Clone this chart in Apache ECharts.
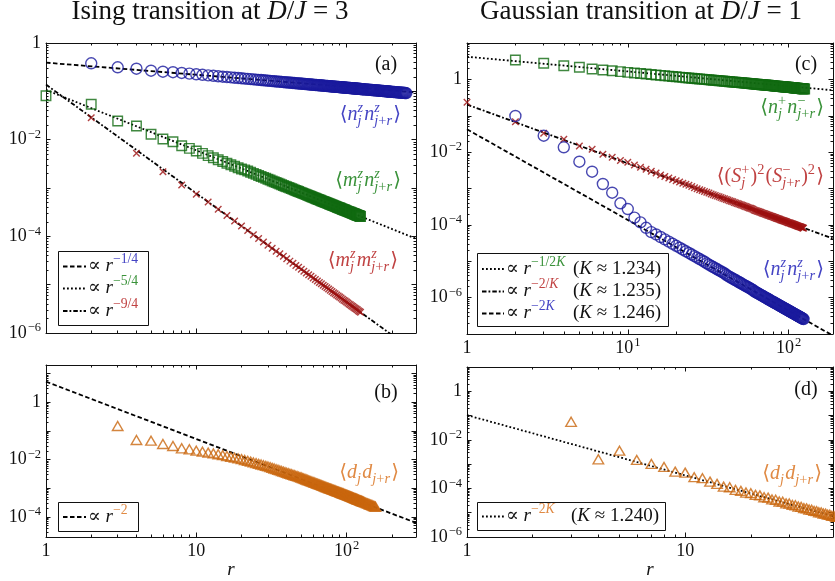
<!DOCTYPE html>
<html>
<head>
<meta charset="utf-8">
<title>Correlation functions at the Ising and Gaussian transitions</title>
<script src="https://cdn.jsdelivr.net/npm/echarts@6.0.0/dist/echarts.min.js"></script>
<style>
  html, body { margin: 0; padding: 0; background: #ffffff; }
  #chart { width: 835px; height: 581px; }
</style>
</head>
<body>
<div id="chart"></div>
<script>
// ---------- separations r ----------
const rGrid = [1,2,3,4,5,6,7,8,9,10,11,12,13,14,15,16,17,18,19,20,21,22,23,24,25,26,27,28,29,30,
  31,32,33,34,35,36,37,38,39,40,41,42,43,44,45,46,47,48,49,50,51,52,53,54,55,56,57,58,59,60,
  61,62,63,64,65,66,67,68,69,70,71,72,73,74,75,76,77,78,79,80,81,82,83,84,85,86,87,88,89,90,
  91,92,93,94,95,96,97,98,99,100,101,102,103,104,105,106,107,108,109,110,111,112,113,114,115,116,117,118,119,120,
  121,122,123,124,125,126,127,128,129,130,
  132,134,136,138,140,142,144,146,148,150,152,154,156,158,160,162,164,166,168,170,172,174,176,178,180,182,184,186,188,190,192,194,
  196,199,202,205,208,211,214,217,220,223,226,229,232,235,238,241,244,247,250];
const rEven = [2,4,6,8,10,12,14,16,18,20,22,24,26,28,30,32,34,36,38,40,
  42,44,46,48,50,52,54,56,58,60,62,64,66,68,70,72,74,76,78,80,
  82,84,86,88,90,92,94,96,98,100,102,104,106,108,110,112,114,116,118,120,122,124];
const rShort = [1,2,3,4,5,6,7,8,9,10,11,12,13,14,15,16,17,18,19,20,21,22,23,24,25,
  26,27,28,29,30,31,32,33,34,35,36,37,38,39,40,41,42,43,44,45,46,47,48,49,50];

// ---------- Ising transition, D/J = 3 ----------
// <n^z_j n^z_{j+r}> on rGrid
const isingNzNz = [null,0.380,0.314,0.294,0.267,0.255,0.249,0.240,0.232,0.225,
  0.220,0.214,0.210,0.205,0.201,0.198,0.1945,0.191,0.189,0.186,
  0.183,0.181,0.179,0.177,0.175,0.173,0.171,0.169,0.168,0.166,
  0.1645,0.163,0.162,0.160,0.159,0.158,0.157,0.155,0.154,0.153,
  0.1522,0.1512,0.1502,0.1492,0.1483,0.1474,0.1464,0.1456,0.1448,0.1440,
  0.1432,0.1424,0.1417,0.1409,0.1402,0.1395,0.1388,0.1381,0.1375,0.1368,
  0.1362,0.1356,0.1350,0.1344,0.1338,0.1332,0.1327,0.1321,0.1316,0.1311,
  0.1306,0.1300,0.1296,0.1291,0.1286,0.1281,0.1276,0.1272,0.1267,0.1263,
  0.1259,0.1254,0.1250,0.1246,0.1242,0.1238,0.1234,0.1230,0.1226,0.1222,
  0.1218,0.1215,0.1211,0.1207,0.1204,0.1200,0.1197,0.1194,0.1190,0.1187,
  0.1184,0.1180,0.1177,0.1174,0.1171,0.1168,0.1165,0.1162,0.1159,0.1156,
  0.1153,0.1150,0.1147,0.1144,0.1142,0.1139,0.1136,0.1133,0.1131,0.1128,
  0.1125,0.1123,0.1121,0.1118,0.1115,0.1113,0.1110,0.1108,0.1106,0.1103,
  0.1098,0.1094,0.1089,0.1085,0.1081,0.1076,0.1072,0.1068,0.1064,0.1060,0.1056,0.1052,0.1049,0.1045,0.1041,0.1038,
  0.1034,0.1031,0.1027,0.1024,0.1020,0.1017,0.1014,0.1011,0.1008,0.1004,0.1001,0.0998,0.0995,0.0992,0.0990,0.0987,
  0.0984,0.0980,0.0976,0.0972,0.0968,0.0964,0.0960,0.0957,0.0953,0.0949,0.0946,0.0942,0.0939,0.0935,0.0932,0.0929,0.0926,0.0923,0.0919];
// <m^z_j n^z_{j+r}> on rGrid
const isingMzNz = [0.0813,0.0540,0.0243,0.0192,0.0129,0.0103,0.00908,0.0075,0.00661,0.00582,
  0.0052,0.00467,0.00422,0.00385,0.00353,0.00326,0.00302,0.00281,0.00263,0.00247,
  0.00237,0.00224,0.00212,0.00201,0.00191,0.00182,0.00173,0.00166,0.00159,0.00152,
  0.00146,0.00140,0.00135,0.00130,0.00125,0.00121,0.00117,0.00113,0.00109,0.00106,
  1.028e-3,9.98e-4,9.69e-4,9.41e-4,9.15e-4,8.90e-4,8.67e-4,8.44e-4,8.23e-4,8.02e-4,7.83e-4,7.64e-4,7.46e-4,7.29e-4,
  7.12e-4,6.96e-4,6.81e-4,6.66e-4,6.52e-4,6.39e-4,6.26e-4,6.13e-4,6.01e-4,5.89e-4,
  5.78e-4,5.67e-4,5.56e-4,5.46e-4,5.36e-4,5.27e-4,5.18e-4,5.09e-4,5.00e-4,4.92e-4,
  4.83e-4,4.75e-4,4.68e-4,4.60e-4,4.53e-4,4.46e-4,4.39e-4,4.32e-4,4.26e-4,4.19e-4,
  4.13e-4,4.07e-4,4.01e-4,3.96e-4,3.90e-4,3.85e-4,3.80e-4,3.74e-4,3.69e-4,3.64e-4,
  3.60e-4,3.55e-4,3.50e-4,3.46e-4,3.41e-4,3.37e-4,3.33e-4,3.29e-4,3.25e-4,3.21e-4,
  3.17e-4,3.14e-4,3.10e-4,3.06e-4,3.03e-4,2.99e-4,2.96e-4,2.93e-4,2.89e-4,2.86e-4,
  2.83e-4,2.80e-4,2.77e-4,2.74e-4,2.71e-4,2.69e-4,2.66e-4,2.63e-4,2.60e-4,2.58e-4];
// <m^z_j m^z_{j+r}> on rEven
const isingMzMz = [0.0284,0.00521,0.00217,0.00115,7.40e-4,5.15e-4,3.64e-4,2.70e-4,2.07e-4,1.63e-4,
  1.32e-4,1.08e-4,9.04e-5,7.65e-5,6.55e-5,5.67e-5,4.94e-5,4.35e-5,3.85e-5,3.43e-5,
  3.07e-5,2.77e-5,2.50e-5,2.28e-5,2.08e-5,1.90e-5,1.75e-5,1.61e-5,1.49e-5,1.38e-5,
  1.28e-5,1.19e-5,1.11e-5,1.04e-5,9.74e-6,9.15e-6,8.60e-6,8.09e-6,7.63e-6,7.21e-6,
  6.82e-6,6.46e-6,6.13e-6,5.82e-6,5.53e-6,5.27e-6,5.02e-6,4.78e-6,4.57e-6,4.37e-6,4.17e-6,
  4.00e-6,3.83e-6,3.67e-6,3.52e-6,3.38e-6,3.25e-6,3.13e-6,3.01e-6,2.90e-6,2.79e-6,2.69e-6];
// <d_j d_{j+r}> on rGrid
const isingDD = [null,null,0.149,0.0484,0.0458,0.0351,0.0299,0.0248,0.0229,0.0205,
  0.0189,0.0176,0.0164,0.0154,0.0143,0.0133,0.0124,0.0117,0.0110,0.0104,
  0.0097,0.00907,0.0085,0.00799,0.00753,0.00711,0.00673,0.00639,0.00607,0.00578,
  0.00546,0.00517,0.00489,0.00464,0.00441,0.0042,0.00401,0.00382,0.00365,0.00349,
  0.00335,0.00321,0.00308,0.00296,0.00284,0.00274,0.00264,0.00254,0.00245,0.00237,0.00227,0.00219,0.00210,0.00203,
  1.95e-3,1.89e-3,1.82e-3,1.76e-3,1.70e-3,1.64e-3,1.59e-3,1.54e-3,1.49e-3,1.44e-3,
  1.40e-3,1.36e-3,1.32e-3,1.28e-3,1.24e-3,1.21e-3,1.17e-3,1.14e-3,1.11e-3,1.08e-3,
  1.05e-3,1.02e-3,9.97e-4,9.72e-4,9.48e-4,9.24e-4,9.01e-4,8.79e-4,8.58e-4,8.38e-4,
  8.18e-4,7.99e-4,7.81e-4,7.63e-4,7.46e-4,7.30e-4,7.14e-4,6.98e-4,6.84e-4,6.69e-4,
  6.55e-4,6.42e-4,6.28e-4,6.16e-4,6.03e-4,5.91e-4,5.79e-4,5.67e-4,5.55e-4,5.44e-4,
  5.32e-4,5.22e-4,5.11e-4,5.01e-4,4.91e-4,4.82e-4,4.72e-4,4.63e-4,4.55e-4,4.46e-4,
  4.38e-4,4.30e-4,4.22e-4,4.14e-4,4.07e-4,4.00e-4,3.93e-4,3.85e-4,3.79e-4,3.72e-4,
  3.66e-4,3.60e-4,3.54e-4,3.48e-4,3.42e-4,3.36e-4,
  3.26e-4,3.15e-4,3.05e-4,2.96e-4,2.87e-4,2.78e-4,2.70e-4,2.62e-4,2.55e-4,2.47e-4,2.40e-4,2.34e-4,2.27e-4];
// power-law fits  A * r^(-p)
const isingFitAmp = [0.392, 0.107, 0.138];
const isingFitExp = [1/4, 5/4, 9/4];
const isingDDFitAmp = 5.24;
const isingDDFitExp = 2;

// ---------- Gaussian transition, D/J = 1 ----------
// <n^+_j n^-_{j+r}> on rGrid
const gaussNpNm = [null,3.41,2.77,2.38,2.15,1.93,1.81,1.73,1.63,1.56,
  1.50,1.448,1.402,1.361,1.323,1.289,1.258,1.229,1.202,1.178,
  1.155,1.133,1.113,1.094,1.076,1.059,1.043,1.028,1.013,1.000,
  0.986,0.974,0.962,0.950,0.939,0.928,0.918,0.908,0.899,0.889,
  0.881,0.872,0.864,0.856,0.848,0.841,0.833,0.826,0.820,0.813,0.806,0.800,0.794,0.788,
  0.782,0.776,0.771,0.765,0.760,0.755,0.746,0.741,0.737,0.732,
  0.728,0.723,0.719,0.714,0.710,0.706,0.702,0.698,0.694,0.690,
  0.687,0.683,0.679,0.676,0.672,0.669,0.661,0.658,0.654,0.651,
  0.648,0.645,0.642,0.639,0.636,0.633,0.630,0.628,0.625,0.622,
  0.619,0.617,0.614,0.612,0.609,0.607,0.604,0.602,0.600,0.597,
  0.595,0.593,0.590,0.588,0.579,0.577,0.575,0.573,0.571,0.569,
  0.567,0.565,0.563,0.561,0.559,0.557,0.555,0.553,0.552,0.550,
  0.548,0.546];
// <(S^+_j)^2 (S^-_{j+r})^2> on rGrid
const gaussS2S2 = [0.234,0.0687,0.0330,0.0225,0.0147,0.0120,0.00871,0.00721,0.00589,0.00526,
  0.00441,0.00383,0.00336,0.00298,0.00267,0.00235,0.00213,0.00194,0.00178,0.00164,
  0.00151,0.00140,0.00130,0.00122,0.00114,0.00105,9.83e-4,9.27e-4,8.76e-4,8.29e-4,
  7.86e-4,7.47e-4,7.10e-4,6.77e-4,6.46e-4,6.17e-4,5.90e-4,5.65e-4,5.42e-4,5.20e-4,
  5.00e-4,4.81e-4,4.63e-4,4.46e-4,4.30e-4,4.15e-4,4.01e-4,3.87e-4,3.75e-4,3.63e-4,3.51e-4,3.40e-4,3.30e-4,3.20e-4,
  3.11e-4,3.02e-4,2.93e-4,2.85e-4,2.77e-4,2.70e-4,2.57e-4,2.50e-4,2.44e-4,2.38e-4,
  2.32e-4,2.26e-4,2.21e-4,2.15e-4,2.10e-4,2.05e-4,2.01e-4,1.96e-4,1.92e-4,1.88e-4,
  1.84e-4,1.80e-4,1.76e-4,1.72e-4,1.69e-4,1.66e-4,1.62e-4,1.59e-4,1.56e-4,1.53e-4,
  1.50e-4,1.47e-4,1.45e-4,1.42e-4,1.39e-4,1.37e-4,1.34e-4,1.32e-4,1.30e-4,1.27e-4,
  1.25e-4,1.23e-4,1.21e-4,1.19e-4,1.17e-4,1.15e-4,1.135e-4,1.12e-4,1.10e-4,1.08e-4,
  1.066e-4,1.05e-4,1.034e-4,1.02e-4,1.003e-4,9.89e-5,9.74e-5,9.60e-5,9.46e-5,9.33e-5,
  9.20e-5,9.07e-5,8.95e-5,8.82e-5,8.71e-5,8.59e-5,8.47e-5,8.36e-5,8.25e-5,8.14e-5];
// <n^z_j n^z_{j+r}> on rGrid
const gaussNzNz = [null,0.0984,0.0283,0.0136,0.00546,0.00290,0.00133,7.67e-4,3.92e-4,2.73e-4,
  1.58e-4,1.17e-4,8.32e-5,6.31e-5,5.45e-5,4.64e-5,3.99e-5,3.46e-5,3.02e-5,2.66e-5,
  2.36e-5,2.10e-5,1.88e-5,1.69e-5,1.53e-5,1.38e-5,1.26e-5,1.15e-5,1.05e-5,9.69e-6,
  8.72e-6,8.06e-6,7.46e-6,6.93e-6,6.44e-6,6.01e-6,5.61e-6,5.25e-6,4.92e-6,4.62e-6,
  4.24e-6,3.95e-6,3.72e-6,3.52e-6,3.33e-6,3.15e-6,2.99e-6,2.83e-6,2.69e-6,2.56e-6,2.44e-6,2.32e-6,2.21e-6,2.11e-6,
  2.02e-6,1.93e-6,1.85e-6,1.77e-6,1.69e-6,1.62e-6,1.51e-6,1.45e-6,1.39e-6,1.34e-6,
  1.29e-6,1.24e-6,1.19e-6,1.15e-6,1.11e-6,1.07e-6,1.03e-6,9.97e-7,9.63e-7,9.31e-7,
  9.00e-7,8.71e-7,8.43e-7,8.16e-7,7.91e-7,7.66e-7,7.43e-7,7.21e-7,6.99e-7,6.79e-7,
  6.59e-7,6.40e-7,6.22e-7,6.04e-7,5.88e-7,5.72e-7,5.56e-7,5.41e-7,5.27e-7,5.13e-7,
  4.99e-7,4.87e-7,4.74e-7,4.62e-7,4.51e-7,4.40e-7,4.29e-7,4.18e-7,4.08e-7,3.99e-7,
  3.89e-7,3.80e-7,3.71e-7,3.63e-7,3.55e-7,3.47e-7,3.39e-7,3.31e-7,3.24e-7,3.17e-7,
  3.10e-7,3.04e-7,2.97e-7,2.91e-7,2.85e-7,2.79e-7,2.73e-7,2.68e-7,2.62e-7,2.57e-7];
// <d_j d_{j+r}> on rShort
const gaussDD = [null,null,0.0553,0.00158,0.00357,0.00149,0.00102,7.66e-4,4.92e-4,4.47e-4,
  2.90e-4,2.64e-4,1.91e-4,1.54e-4,1.19e-4,1.12e-4,8.71e-5,7.94e-5,6.76e-5,6.38e-5,
  5.42e-5,5.17e-5,4.33e-5,4.17e-5,3.52e-5,3.42e-5,2.90e-5,2.84e-5,2.43e-5,2.40e-5,
  2.09e-5,2.02e-5,1.79e-5,1.74e-5,1.54e-5,1.51e-5,1.35e-5,1.32e-5,1.18e-5,1.16e-5,
  1.04e-5,1.03e-5,9.27e-6,9.17e-6,8.28e-6,8.21e-6,7.43e-6,7.39e-6,6.70e-6,6.68e-6];
// Luttinger parameters and fit amplitudes
const gaussK = [1.234, 1.235, 1.246];
const gaussFitAmp = [4.20, 0.204, 0.0424];
const gaussDDK = 1.240;
const gaussDDFitAmp = 0.104;

// ---------- tick labels ----------
const yLabelsA = [1, 1e-2, 1e-4, 1e-6];
const yLabelsB = [1, 1e-2, 1e-4];
const yLabelsC = [1, 1e-2, 1e-4, 1e-6];
const yLabelsD = [1, 1e-2, 1e-4, 1e-6];
const xLabelsB = [1, 10, 100];
const xLabelsC = [1, 10, 100];
const xLabelsD = [1, 10];

// ---------- styling ----------
const SERIF = "'Liberation Serif', 'DejaVu Serif', serif";
const INK = '#111111';
const COL = { blue: '#1a1a9e', green: '#106a10', red: '#9c1010', orange: '#c9660e' };
const TXT = { blue: '#4444c4', green: '#3a923a', red: '#c04242', orange: '#e08a44' };
const DASH = { dashed: [4.5, 2.5], dotted: [1.8, 2.2], dashdot: [4.5, 2, 1.8, 2] };
const SYM = {
  circle: { symbol: 'circle', size: 11 },
  square: { symbol: 'rect', size: 9.5 },
  cross: { symbol: 'path://M0,0L10,10M10,0L0,10', size: 6.5 },
  triangle: { symbol: 'triangle', size: [10.5, 9] }
};

const panels = [
  { grid: { left: 46, top: 43, width: 370, height: 290 }, x: [1, 290], y: [1e-6, 1], xLab: [], yLab: yLabelsA, xMode: 'ten' },
  { grid: { left: 46, top: 365, width: 370, height: 172 }, x: [1, 290], y: [2e-5, 20], xLab: xLabelsB, yLab: yLabelsB, xMode: 'ten', xName: 'r' },
  { grid: { left: 467, top: 43, width: 366, height: 291 }, x: [1, 189], y: [1e-7, 10], xLab: xLabelsC, yLab: yLabelsC, xMode: 'sup' },
  { grid: { left: 467, top: 367, width: 366, height: 170 }, x: [1, 47.6], y: [1e-6, 10], xLab: xLabelsD, yLab: yLabelsD, xMode: 'ten', xName: 'r' }
];

// ---------- axes ----------
function decadeTicks(lo, hi) {
  const major = [], minor = [];
  for (let e = Math.floor(Math.log10(lo)) - 1; e <= Math.ceil(Math.log10(hi)) + 1; e++) {
    const p = Math.pow(10, e);
    if (p >= lo * 0.999 && p <= hi * 1.001) major.push(p);
    for (let m = 2; m <= 9; m++) {
      const v = m * p;
      if (v >= lo * 0.999 && v <= hi * 1.001) minor.push(v);
    }
  }
  return { major, minor };
}
function powLabel(v, mode) {
  const e = Math.round(Math.log10(v));
  if (e === 0) return '{m|1}';
  if (e === 1 && mode === 'ten') return '{m|10}';
  return '{m|10}{s|' + (e < 0 ? '\u2212' : '') + Math.abs(e) + '}';
}
const tickRich = {
  m: { fontFamily: SERIF, fontSize: 18, color: INK, lineHeight: 18, verticalAlign: 'bottom' },
  s: { fontFamily: SERIF, fontSize: 12.5, color: INK, lineHeight: 12.5, verticalAlign: 'bottom', padding: [0, 0, 7.5, 1] }
};
function axisSet(dim, gi, range, labels, mode, name) {
  const t = decadeTicks(range[0], range[1]);
  const common = {
    type: 'log', logBase: 10, gridIndex: gi, min: range[0], max: range[1],
    splitLine: { show: false }, minorTick: { show: false }, minorSplitLine: { show: false }, silent: true
  };
  const line = { show: true, onZero: false, lineStyle: { color: INK, width: 1 } };
  const noLine = { show: false, onZero: false };
  const tick = (vals, len) => ({ show: true, inside: true, length: len, customValues: vals, lineStyle: { color: INK, width: 1 } });
  const sides = dim === 'x' ? ['bottom', 'top'] : ['left', 'right'];
  const main = Object.assign({}, common, {
    position: sides[0], axisLine: line, axisTick: tick(t.major, 4.5),
    axisLabel: { show: labels.length > 0, customValues: labels, margin: 5, color: INK,
      formatter: v => powLabel(v, mode), rich: tickRich }
  });
  if (name) Object.assign(main, { name, nameLocation: 'middle', nameGap: 23,
    nameTextStyle: { fontFamily: SERIF, fontStyle: 'italic', fontSize: 19, color: INK } });
  return [
    main,
    Object.assign({}, common, { position: sides[0], axisLine: noLine, axisTick: tick(t.minor, 2.5), axisLabel: { show: false } }),
    Object.assign({}, common, { position: sides[1], axisLine: line, axisTick: tick(t.major, 4.5), axisLabel: { show: false } }),
    Object.assign({}, common, { position: sides[1], axisLine: noLine, axisTick: tick(t.minor, 2.5), axisLabel: { show: false } })
  ];
}

// ---------- series ----------
function pairs(rs, vs) {
  const out = [];
  vs.forEach((v, i) => { if (v !== null) out.push([rs[i], v]); });
  return out;
}
function fitLine(gi, amp, p, kind) {
  const xr = panels[gi].x;
  return {
    type: 'line', xAxisIndex: 4 * gi, yAxisIndex: 4 * gi, symbol: 'none', silent: true, clip: true, z: 2,
    emphasis: { disabled: true },
    data: [[xr[0], amp * Math.pow(xr[0], -p)], [xr[1], amp * Math.pow(xr[1], -p)]],
    lineStyle: { color: '#000', width: 1.8, type: DASH[kind] }
  };
}
function marks(gi, rs, vs, shape, color) {
  return {
    type: 'scatter', xAxisIndex: 4 * gi, yAxisIndex: 4 * gi, silent: true, clip: false, z: 3,
    emphasis: { disabled: true }, large: false, progressive: 0,
    data: pairs(rs, vs), symbol: SYM[shape].symbol, symbolSize: SYM[shape].size,
    itemStyle: { color: 'rgba(0,0,0,0)', borderColor: color, borderWidth: 1.4 }
  };
}

const series = [
  fitLine(0, isingFitAmp[0], isingFitExp[0], 'dashed'),
  fitLine(0, isingFitAmp[1], isingFitExp[1], 'dotted'),
  fitLine(0, isingFitAmp[2], isingFitExp[2], 'dashdot'),
  marks(0, rGrid, isingNzNz, 'circle', COL.blue),
  marks(0, rGrid, isingMzNz, 'square', COL.green),
  marks(0, rEven, isingMzMz, 'cross', COL.red),

  fitLine(1, isingDDFitAmp, isingDDFitExp, 'dashed'),
  marks(1, rGrid, isingDD, 'triangle', COL.orange),

  fitLine(2, gaussFitAmp[0], 1 / (2 * gaussK[0]), 'dotted'),
  fitLine(2, gaussFitAmp[1], 2 / gaussK[1], 'dashdot'),
  fitLine(2, gaussFitAmp[2], 2 * gaussK[2], 'dashed'),
  marks(2, rGrid, gaussNpNm, 'square', COL.green),
  marks(2, rGrid, gaussS2S2, 'cross', COL.red),
  marks(2, rGrid, gaussNzNz, 'circle', COL.blue),

  fitLine(3, gaussDDFitAmp, 2 * gaussDDK, 'dotted'),
  marks(3, rShort, gaussDD, 'triangle', COL.orange)
];

// ---------- typeset text (math-style runs, scripts) ----------
const measureCtx = document.createElement('canvas').getContext('2d');
function fontOf(size, italic) { return (italic ? 'italic ' : '') + size + 'px ' + SERIF; }
function widthOf(text, size, italic) { measureCtx.font = fontOf(size, italic); return measureCtx.measureText(text).width; }
function mathRuns(str) {
  const runs = [];
  for (const ch of str) {
    const it = /[A-Za-z]/.test(ch);
    const last = runs[runs.length - 1];
    if (last && last.it === it) last.t += ch; else runs.push({ t: ch, it: it });
  }
  return runs;
}
const BASE_K = 0.34;
function formula(items, o) {
  const size = o.size, small = size * 0.72;
  const parts = [];
  let x = 0;
  function put(runs, sz, dy, color, at) {
    let w = 0;
    runs.forEach(r => { parts.push({ t: r.t, it: r.it, sz: sz, x: at + w, dy: dy, color: color }); w += widthOf(r.t, sz, r.it); });
    return w;
  }
  items.forEach(it => {
    const color = it.c || o.color;
    if (it.gap) { x += it.gap; }
    else if (it.t !== undefined) { x += put([{ t: it.t, it: false }], size, 0, color, x); }
    else if (it.m !== undefined) { x += put(mathRuns(it.m), size, 0, color, x); }
    else {
      let w = 0;
      if (it.sup) w = Math.max(w, put(mathRuns(it.sup), small, -0.42 * size, color, x));
      if (it.sub) w = Math.max(w, put(mathRuns(it.sub), small, 0.2 * size, color, x));
      x += w + 0.06 * size;
    }
  });
  const x0 = o.align === 'right' ? o.x - x : (o.align === 'center' ? o.x - x / 2 : o.x);
  return parts.map(p => ({
    type: 'text', silent: true, z: 50,
    style: { text: p.t, x: x0 + p.x, y: o.y + p.dy - BASE_K * p.sz, font: fontOf(p.sz, p.it), fill: p.color,
      align: 'left', verticalAlign: 'middle', textAlign: 'left', textVerticalAlign: 'middle' }
  }));
}
function sample(x1, x2, y, kind) {
  return { type: 'line', silent: true, z: 50, shape: { x1: x1, y1: y, x2: x2, y2: y },
    style: { stroke: '#000', lineWidth: 1.8, lineDash: DASH[kind] } };
}
function box(x, y, w, h) {
  return { type: 'rect', silent: true, z: 40, shape: { x: x, y: y, width: w, height: h },
    style: { fill: '#ffffff', stroke: INK, lineWidth: 1 } };
}

const gfx = [];
const add = els => { els.forEach(e => gfx.push(e)); };
const AS = 20;   // curve annotation size
const LS = 19;   // legend size

// titles
add(formula([{ t: 'Ising transition at ' }, { m: 'D' }, { t: '/' }, { m: 'J' }, { t: ' = 3' }], { x: 210, y: 21, size: 27, color: INK, align: 'center' }));
add(formula([{ t: 'Gaussian transition at ' }, { m: 'D' }, { t: '/' }, { m: 'J' }, { t: ' = 1' }], { x: 641, y: 21, size: 27, color: INK, align: 'center' }));

// panel tags
add(formula([{ t: '(a)' }], { x: 386, y: 72, size: 20, color: INK, align: 'center' }));
add(formula([{ t: '(b)' }], { x: 386, y: 400, size: 20, color: INK, align: 'center' }));
add(formula([{ t: '(c)' }], { x: 806, y: 72, size: 20, color: INK, align: 'center' }));
add(formula([{ t: '(d)' }], { x: 806, y: 397, size: 20, color: INK, align: 'center' }));

// curve annotations
add(formula([{ t: '\u27E8' }, { m: 'n' }, { sup: 'z', sub: 'j' }, { m: 'n' }, { sup: 'z', sub: 'j+r' }, { t: '\u27E9' }], { x: 401, y: 122, size: AS, color: TXT.blue, align: 'right' }));
add(formula([{ t: '\u27E8' }, { m: 'm' }, { sup: 'z', sub: 'j' }, { m: 'n' }, { sup: 'z', sub: 'j+r' }, { t: '\u27E9' }], { x: 401, y: 188, size: AS, color: TXT.green, align: 'right' }));
add(formula([{ t: '\u27E8' }, { m: 'm' }, { sup: 'z', sub: 'j' }, { m: 'm' }, { sup: 'z', sub: 'j+r' }, { t: '\u27E9' }], { x: 398, y: 268, size: AS, color: TXT.red, align: 'right' }));
add(formula([{ t: '\u27E8' }, { m: 'd' }, { sub: 'j' }, { m: 'd' }, { sub: 'j+r' }, { t: '\u27E9' }], { x: 399, y: 480, size: AS, color: TXT.orange, align: 'right' }));
add(formula([{ t: '\u27E8' }, { m: 'n' }, { sup: '+', sub: 'j' }, { m: 'n' }, { sup: '\u2212', sub: 'j+r' }, { t: '\u27E9' }], { x: 824, y: 115, size: AS, color: TXT.green, align: 'right' }));
add(formula([{ t: '\u27E8(' }, { m: 'S' }, { sup: '+', sub: 'j' }, { t: ')' }, { sup: '2' }, { t: '(' }, { m: 'S' }, { sup: '\u2212', sub: 'j+r' }, { t: ')' }, { sup: '2' }, { t: '\u27E9' }], { x: 824, y: 184, size: AS, color: TXT.red, align: 'right' }));
add(formula([{ t: '\u27E8' }, { m: 'n' }, { sup: 'z', sub: 'j' }, { m: 'n' }, { sup: 'z', sub: 'j+r' }, { t: '\u27E9' }], { x: 824, y: 277, size: AS, color: TXT.blue, align: 'right' }));
add(formula([{ t: '\u27E8' }, { m: 'd' }, { sub: 'j' }, { m: 'd' }, { sub: 'j+r' }, { t: '\u27E9' }], { x: 822, y: 481, size: AS, color: TXT.orange, align: 'right' }));

// legend (a)
add([box(58.5, 251.5, 90, 74)]);
[['dashed', '\u22121/4', TXT.blue, 266.5], ['dotted', '\u22125/4', TXT.green, 288.5], ['dashdot', '\u22129/4', TXT.red, 311]].forEach(e => {
  add([sample(63, 86, e[3], e[0])]);
  add(formula([{ t: '\u221D ' }, { m: 'r' }, { sup: e[1], c: e[2] }], { x: 88, y: e[3] + 6, size: LS, color: INK, align: 'left' }));
});
// legend (b)
add([box(58.5, 502.5, 80, 29)]);
add([sample(63, 86, 517, 'dashed')]);
add(formula([{ t: '\u221D ' }, { m: 'r' }, { sup: '\u22122', c: TXT.orange }], { x: 88, y: 523, size: LS, color: INK, align: 'left' }));
// legend (c)
add([box(477.5, 253.5, 191, 73)]);
[['dotted', '\u22121/2K', TXT.green, 269, gaussK[0]], ['dashdot', '\u22122/K', TXT.red, 291.5, gaussK[1]], ['dashed', '\u22122K', TXT.blue, 313.5, gaussK[2]]].forEach(e => {
  add([sample(482, 504, e[3], e[0])]);
  add(formula([{ t: '\u221D ' }, { m: 'r' }, { sup: e[1], c: e[2] }], { x: 506, y: e[3] + 6, size: LS, color: INK, align: 'left' }));
  add(formula([{ t: '(' }, { m: 'K' }, { t: ' \u2248 ' + e[4].toFixed(3) + ')' }], { x: 661, y: e[3] + 6, size: LS, color: INK, align: 'right' }));
});
// legend (d)
add([box(477.5, 502.5, 188, 28)]);
add([sample(482, 504, 516.5, 'dotted')]);
add(formula([{ t: '\u221D ' }, { m: 'r' }, { sup: '\u22122K', c: TXT.orange }], { x: 506, y: 522.5, size: LS, color: INK, align: 'left' }));
add(formula([{ t: '(' }, { m: 'K' }, { t: ' \u2248 ' + gaussDDK.toFixed(3) + ')' }], { x: 659, y: 522.5, size: LS, color: INK, align: 'right' }));

// ---------- assemble ----------
const xAxis = [], yAxis = [];
panels.forEach((p, gi) => {
  axisSet('x', gi, p.x, p.xLab, p.xMode, p.xName).forEach(a => xAxis.push(a));
  axisSet('y', gi, p.y, p.yLab, 'sup').forEach(a => yAxis.push(a));
});

const chart = echarts.init(document.getElementById('chart'), null, { renderer: 'canvas' });
chart.setOption({
  animation: false,
  backgroundColor: '#ffffff',
  grid: panels.map(p => Object.assign({ containLabel: false }, p.grid)),
  xAxis: xAxis,
  yAxis: yAxis,
  series: series,
  graphic: { elements: gfx }
});
</script>
</body>
</html>
